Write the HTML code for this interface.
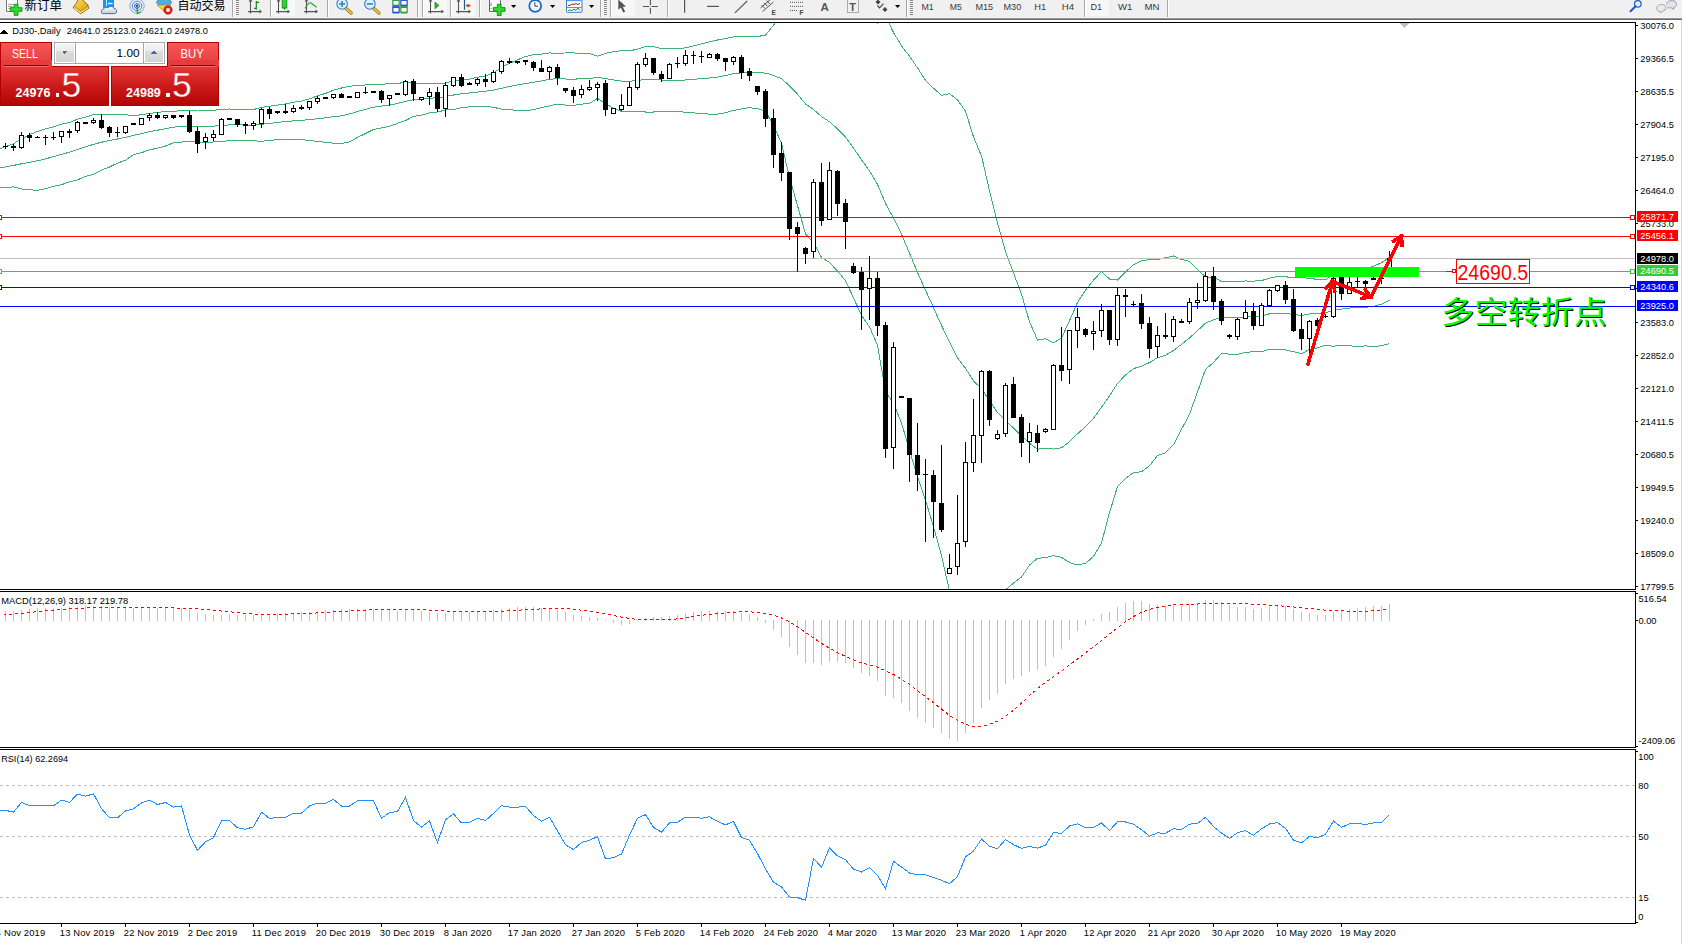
<!DOCTYPE html>
<html><head><meta charset="utf-8"><style>
html,body{margin:0;padding:0}
body{width:1682px;height:944px;overflow:hidden;position:relative;background:#fff;font-family:"Liberation Sans","Noto Sans CJK SC",sans-serif}
#tb{position:absolute;left:0;top:0;width:1682px;height:18px;background:#F0F0F0}
</style></head><body>
<svg width="1682" height="944" viewBox="0 0 1682 944" style="position:absolute;left:0;top:0" shape-rendering="crispEdges">
<defs><clipPath id="cm"><rect x="0" y="23" width="1635" height="566"/></clipPath></defs>
<g clip-path="url(#cm)">
<polyline points="-2.5,149.8 5.5,146.4 13.5,143.8 21.5,138.7 29.5,134.8 37.5,131.4 45.5,128.8 53.5,127.0 61.5,124.2 69.5,122.5 77.5,119.2 85.5,117.2 93.5,114.6 101.5,114.3 109.5,114.3 117.5,114.9 125.5,114.6 133.5,116.0 141.5,114.6 149.5,113.5 157.5,112.4 165.5,111.4 173.5,111.6 181.5,110.4 189.5,110.8 197.5,110.0 205.5,110.0 213.5,110.2 221.5,109.6 229.5,109.0 237.5,109.2 245.5,109.3 253.5,109.6 261.5,107.3 269.5,106.2 277.5,105.1 285.5,104.0 293.5,102.3 301.5,101.1 309.5,98.8 317.5,95.9 325.5,93.4 333.5,90.2 341.5,88.0 349.5,86.2 357.5,85.6 365.5,85.0 373.5,84.8 381.5,84.4 389.5,83.6 397.5,83.6 405.5,82.0 413.5,83.1 421.5,83.1 429.5,83.3 437.5,83.8 445.5,83.1 453.5,80.3 461.5,80.0 469.5,79.1 477.5,77.2 485.5,76.0 493.5,72.9 501.5,67.4 509.5,63.3 517.5,59.8 525.5,56.5 533.5,54.7 541.5,54.1 549.5,53.0 557.5,53.1 565.5,53.0 573.5,52.9 581.5,53.4 589.5,53.6 597.5,56.3 605.5,53.4 613.5,51.8 621.5,50.7 629.5,50.8 637.5,49.2 645.5,46.6 653.5,46.6 661.5,48.5 669.5,48.8 677.5,49.0 685.5,47.8 693.5,45.9 701.5,43.8 709.5,41.9 717.5,40.0 725.5,38.5 733.5,37.0 741.5,36.8 749.5,36.8 757.5,36.6 765.5,35.0 773.5,25.3 781.5,14.2 789.5,-6.1 797.5,-17.3 805.5,-25.9 813.5,-23.9 821.5,-24.4 829.5,-18.8 837.5,-13.4 845.5,-6.4 853.5,-1.9 861.5,3.9 869.5,14.8 877.5,23.2 885.5,15.5 893.5,32.6 901.5,45.7 909.5,56.3 917.5,67.8 925.5,80.4 933.5,88.3 941.5,95.2 949.5,93.8 957.5,99.9 965.5,111.2 973.5,137.1 981.5,155.9 989.5,190.8 997.5,222.7 1005.5,251.5 1013.5,273.0 1021.5,294.2 1029.5,321.6 1037.5,340.1 1045.5,338.8 1053.5,342.7 1061.5,338.2 1069.5,320.7 1077.5,302.5 1085.5,290.1 1093.5,280.1 1101.5,271.5 1109.5,279.1 1117.5,280.1 1125.5,271.9 1133.5,264.8 1141.5,260.6 1149.5,259.7 1157.5,259.7 1165.5,257.7 1173.5,256.0 1181.5,259.4 1189.5,261.4 1197.5,269.7 1205.5,276.9 1213.5,277.2 1221.5,281.5 1229.5,281.2 1237.5,281.3 1245.5,281.0 1253.5,281.1 1261.5,280.6 1269.5,278.2 1277.5,276.4 1285.5,276.8 1293.5,277.6 1301.5,277.1 1309.5,278.7 1317.5,279.2 1325.5,279.8 1333.5,274.7 1341.5,273.0 1349.5,270.3 1357.5,267.7 1365.5,269.0 1373.5,266.1 1381.5,262.8 1389.5,257.1" fill="none" stroke="#3CB371" stroke-width="1" />
<polyline points="-2.5,168.3 5.5,166.9 13.5,165.4 21.5,163.8 29.5,162.3 37.5,160.8 45.5,158.8 53.5,156.7 61.5,154.4 69.5,152.2 77.5,149.5 85.5,146.9 93.5,144.4 101.5,142.2 109.5,140.6 117.5,139.0 125.5,137.4 133.5,135.3 141.5,133.6 149.5,131.7 157.5,130.2 165.5,128.7 173.5,127.2 181.5,126.2 189.5,126.0 197.5,126.2 205.5,126.2 213.5,126.1 221.5,125.5 229.5,124.9 237.5,124.9 245.5,125.0 253.5,125.2 261.5,124.3 269.5,123.4 277.5,122.4 285.5,121.6 293.5,120.9 301.5,120.3 309.5,119.7 317.5,118.7 325.5,117.8 333.5,116.7 341.5,115.8 349.5,114.0 357.5,111.5 365.5,109.3 373.5,107.2 381.5,106.1 389.5,104.9 397.5,103.5 405.5,101.2 413.5,99.8 421.5,99.1 429.5,98.1 437.5,97.9 445.5,96.6 453.5,95.0 461.5,93.8 469.5,93.0 477.5,92.1 485.5,91.2 493.5,90.1 501.5,88.3 509.5,86.5 517.5,85.0 525.5,83.5 533.5,82.3 541.5,80.9 549.5,79.4 557.5,78.6 565.5,79.0 573.5,79.2 581.5,78.7 589.5,78.5 597.5,77.3 605.5,78.5 613.5,80.0 621.5,81.1 629.5,81.2 637.5,80.5 645.5,79.3 653.5,79.3 661.5,80.1 669.5,80.3 677.5,80.3 685.5,80.0 693.5,79.4 701.5,78.6 709.5,78.0 717.5,77.1 725.5,75.6 733.5,73.7 741.5,72.8 749.5,72.3 757.5,72.6 765.5,73.1 773.5,75.4 781.5,78.7 789.5,85.8 797.5,94.2 805.5,103.9 813.5,109.5 821.5,116.5 829.5,121.8 837.5,128.8 845.5,137.2 853.5,148.0 861.5,159.7 869.5,170.9 877.5,184.2 885.5,203.6 893.5,218.0 901.5,234.3 909.5,253.3 917.5,272.4 925.5,290.2 933.5,307.6 941.5,325.4 949.5,342.4 957.5,357.9 965.5,368.3 973.5,381.0 981.5,388.6 989.5,401.0 997.5,412.5 1005.5,420.8 1013.5,428.0 1021.5,435.7 1029.5,443.3 1037.5,449.2 1045.5,448.2 1053.5,449.1 1061.5,447.8 1069.5,441.6 1077.5,433.8 1085.5,426.7 1093.5,418.2 1101.5,407.3 1109.5,395.8 1117.5,383.4 1125.5,375.1 1133.5,368.6 1141.5,366.2 1149.5,362.6 1157.5,357.7 1165.5,355.2 1173.5,350.4 1181.5,344.4 1189.5,337.9 1197.5,330.7 1205.5,323.1 1213.5,319.9 1221.5,317.4 1229.5,317.7 1237.5,317.8 1245.5,316.7 1253.5,316.4 1261.5,316.1 1269.5,313.7 1277.5,313.2 1285.5,313.3 1293.5,314.6 1301.5,315.4 1309.5,314.0 1317.5,313.6 1325.5,312.6 1333.5,310.5 1341.5,309.1 1349.5,308.1 1357.5,307.1 1365.5,307.4 1373.5,306.3 1381.5,304.2 1389.5,300.4" fill="none" stroke="#3CB371" stroke-width="1" />
<polyline points="-2.5,186.8 5.5,187.4 13.5,186.9 21.5,189.0 29.5,189.8 37.5,190.3 45.5,188.8 53.5,186.3 61.5,184.7 69.5,181.9 77.5,179.9 85.5,176.5 93.5,174.2 101.5,170.1 109.5,167.0 117.5,163.1 125.5,160.2 133.5,154.6 141.5,152.7 149.5,149.9 157.5,148.1 165.5,146.0 173.5,142.8 181.5,142.1 189.5,141.1 197.5,142.5 205.5,142.5 213.5,142.0 221.5,141.4 229.5,140.7 237.5,140.7 245.5,140.8 253.5,140.8 261.5,141.3 269.5,140.5 277.5,139.6 285.5,139.3 293.5,139.4 301.5,139.6 309.5,140.5 317.5,141.5 325.5,142.3 333.5,143.2 341.5,143.5 349.5,141.9 357.5,137.4 365.5,133.5 373.5,129.5 381.5,127.9 389.5,126.3 397.5,123.3 405.5,120.5 413.5,116.4 421.5,115.2 429.5,112.9 437.5,112.0 445.5,110.0 453.5,109.7 461.5,107.7 469.5,106.9 477.5,106.9 485.5,106.4 493.5,107.3 501.5,109.2 509.5,109.8 517.5,110.3 525.5,110.5 533.5,109.8 541.5,107.6 549.5,105.9 557.5,104.1 565.5,105.1 573.5,105.4 581.5,104.1 589.5,103.4 597.5,98.3 605.5,103.6 613.5,108.3 621.5,111.4 629.5,111.6 637.5,111.7 645.5,112.0 653.5,112.0 661.5,111.8 669.5,111.7 677.5,111.6 685.5,112.2 693.5,112.9 701.5,113.5 709.5,114.1 717.5,114.1 725.5,112.7 733.5,110.4 741.5,108.9 749.5,107.7 757.5,108.6 765.5,111.1 773.5,125.4 781.5,143.2 789.5,177.6 797.5,205.7 805.5,233.8 813.5,242.8 821.5,257.5 829.5,262.5 837.5,271.1 845.5,280.7 853.5,297.9 861.5,315.4 869.5,326.9 877.5,345.2 885.5,391.6 893.5,403.5 901.5,422.9 909.5,450.2 917.5,477.0 925.5,500.0 933.5,526.8 941.5,555.6 949.5,591.0 957.5,615.9 965.5,625.5 973.5,624.9 981.5,621.2 989.5,611.2 997.5,602.4 1005.5,590.0 1013.5,583.0 1021.5,577.1 1029.5,565.1 1037.5,558.3 1045.5,557.7 1053.5,555.6 1061.5,557.4 1069.5,562.5 1077.5,565.0 1085.5,563.4 1093.5,556.4 1101.5,543.1 1109.5,512.6 1117.5,486.8 1125.5,478.4 1133.5,472.4 1141.5,471.8 1149.5,465.6 1157.5,455.7 1165.5,452.8 1173.5,444.7 1181.5,429.3 1189.5,414.3 1197.5,391.8 1205.5,369.3 1213.5,362.6 1221.5,353.3 1229.5,354.2 1237.5,354.3 1245.5,352.4 1253.5,351.7 1261.5,351.7 1269.5,349.2 1277.5,350.0 1285.5,349.9 1293.5,351.7 1301.5,353.7 1309.5,349.4 1317.5,347.9 1325.5,345.3 1333.5,346.3 1341.5,345.1 1349.5,345.8 1357.5,346.5 1365.5,345.9 1373.5,346.6 1381.5,345.7 1389.5,343.6" fill="none" stroke="#3CB371" stroke-width="1" />
</g>
<rect x="0" y="217" width="1635" height="1" fill="#FF0000"/>
<rect x="1630.5" y="215.5" width="4" height="4" fill="#fff" stroke="#FF0000" stroke-width="1"/>
<rect x="-2.5" y="215.5" width="4" height="4" fill="#fff" stroke="#FF0000" stroke-width="1"/>
<rect x="0" y="236" width="1635" height="1" fill="#FF0000"/>
<rect x="1630.5" y="234.5" width="4" height="4" fill="#fff" stroke="#FF0000" stroke-width="1"/>
<rect x="-2.5" y="234.5" width="4" height="4" fill="#fff" stroke="#FF0000" stroke-width="1"/>
<rect x="0" y="258" width="1635" height="1" fill="#C0C0C0"/>
<rect x="0" y="271" width="1635" height="1" fill="#32CD32"/>
<rect x="1630.5" y="269.5" width="4" height="4" fill="#fff" stroke="#32CD32" stroke-width="1"/>
<rect x="-2.5" y="269.5" width="4" height="4" fill="#fff" stroke="#32CD32" stroke-width="1"/>
<rect x="0" y="287" width="1635" height="1" fill="#0000FF"/>
<rect x="1630.5" y="285.5" width="4" height="4" fill="#fff" stroke="#0000FF" stroke-width="1"/>
<rect x="-2.5" y="285.5" width="4" height="4" fill="#fff" stroke="#0000FF" stroke-width="1"/>
<rect x="0" y="306" width="1635" height="1" fill="#0000FF"/>
<rect x="5" y="143" width="1" height="6"/>
<rect x="3" y="146" width="5" height="1"/>
<rect x="13" y="144" width="1" height="7"/>
<rect x="11" y="146" width="5" height="2"/>
<rect x="21" y="132" width="1" height="17"/>
<rect x="19" y="135" width="5" height="13"/>
<rect x="20" y="136" width="3" height="11" fill="#fff"/>
<rect x="29" y="133" width="1" height="9"/>
<rect x="27" y="135" width="5" height="3"/>
<rect x="37" y="136" width="1" height="2"/>
<rect x="35" y="137" width="5" height="1"/>
<rect x="45" y="135" width="1" height="10"/>
<rect x="43" y="137" width="5" height="1"/>
<rect x="53" y="132" width="1" height="8"/>
<rect x="51" y="137" width="5" height="1"/>
<rect x="61" y="131" width="1" height="12"/>
<rect x="59" y="131" width="5" height="6"/>
<rect x="60" y="132" width="3" height="4" fill="#fff"/>
<rect x="69" y="129" width="1" height="9"/>
<rect x="67" y="131" width="5" height="2"/>
<rect x="77" y="121" width="1" height="12"/>
<rect x="75" y="122" width="5" height="9"/>
<rect x="76" y="123" width="3" height="7" fill="#fff"/>
<rect x="85" y="122" width="1" height="2"/>
<rect x="83" y="122" width="5" height="2"/>
<rect x="93" y="118" width="1" height="6"/>
<rect x="91" y="120" width="5" height="3"/>
<rect x="92" y="121" width="3" height="1" fill="#fff"/>
<rect x="101" y="114" width="1" height="15"/>
<rect x="99" y="120" width="5" height="8"/>
<rect x="109" y="126" width="1" height="11"/>
<rect x="107" y="127" width="5" height="6"/>
<rect x="117" y="127" width="1" height="10"/>
<rect x="115" y="132" width="5" height="1"/>
<rect x="125" y="126" width="1" height="8"/>
<rect x="123" y="126" width="5" height="7"/>
<rect x="124" y="127" width="3" height="5" fill="#fff"/>
<rect x="133" y="123" width="1" height="2"/>
<rect x="131" y="123" width="5" height="2"/>
<rect x="141" y="118" width="1" height="7"/>
<rect x="139" y="118" width="5" height="7"/>
<rect x="140" y="119" width="3" height="5" fill="#fff"/>
<rect x="149" y="113" width="1" height="8"/>
<rect x="147" y="115" width="5" height="3"/>
<rect x="148" y="116" width="3" height="1" fill="#fff"/>
<rect x="157" y="112" width="1" height="7"/>
<rect x="155" y="115" width="5" height="3"/>
<rect x="165" y="115" width="1" height="4"/>
<rect x="163" y="115" width="5" height="3"/>
<rect x="164" y="116" width="3" height="1" fill="#fff"/>
<rect x="173" y="115" width="1" height="4"/>
<rect x="171" y="115" width="5" height="3"/>
<rect x="181" y="115" width="1" height="3"/>
<rect x="179" y="115" width="5" height="2"/>
<rect x="189" y="111" width="1" height="22"/>
<rect x="187" y="115" width="5" height="17"/>
<rect x="197" y="127" width="1" height="26"/>
<rect x="195" y="131" width="5" height="13"/>
<rect x="205" y="133" width="1" height="16"/>
<rect x="203" y="137" width="5" height="5"/>
<rect x="204" y="138" width="3" height="3" fill="#fff"/>
<rect x="213" y="130" width="1" height="11"/>
<rect x="211" y="134" width="5" height="4"/>
<rect x="212" y="135" width="3" height="2" fill="#fff"/>
<rect x="221" y="118" width="1" height="17"/>
<rect x="219" y="119" width="5" height="16"/>
<rect x="220" y="120" width="3" height="14" fill="#fff"/>
<rect x="229" y="118" width="1" height="2"/>
<rect x="227" y="118" width="5" height="2"/>
<rect x="237" y="119" width="1" height="8"/>
<rect x="235" y="119" width="5" height="6"/>
<rect x="245" y="122" width="1" height="12"/>
<rect x="243" y="124" width="5" height="2"/>
<rect x="253" y="121" width="1" height="9"/>
<rect x="251" y="123" width="5" height="3"/>
<rect x="252" y="124" width="3" height="1" fill="#fff"/>
<rect x="261" y="108" width="1" height="20"/>
<rect x="259" y="109" width="5" height="15"/>
<rect x="260" y="110" width="3" height="13" fill="#fff"/>
<rect x="269" y="107" width="1" height="12"/>
<rect x="267" y="109" width="5" height="5"/>
<rect x="277" y="111" width="1" height="3"/>
<rect x="275" y="111" width="5" height="2"/>
<rect x="285" y="104" width="1" height="10"/>
<rect x="283" y="111" width="5" height="2"/>
<rect x="293" y="105" width="1" height="8"/>
<rect x="291" y="108" width="5" height="4"/>
<rect x="292" y="109" width="3" height="2" fill="#fff"/>
<rect x="301" y="105" width="1" height="5"/>
<rect x="299" y="107" width="5" height="2"/>
<rect x="309" y="101" width="1" height="9"/>
<rect x="307" y="101" width="5" height="7"/>
<rect x="308" y="102" width="3" height="5" fill="#fff"/>
<rect x="317" y="96" width="1" height="8"/>
<rect x="315" y="98" width="5" height="4"/>
<rect x="316" y="99" width="3" height="2" fill="#fff"/>
<rect x="325" y="97" width="1" height="2"/>
<rect x="323" y="97" width="5" height="2"/>
<rect x="333" y="94" width="1" height="5"/>
<rect x="331" y="94" width="5" height="4"/>
<rect x="332" y="95" width="3" height="2" fill="#fff"/>
<rect x="341" y="93" width="1" height="5"/>
<rect x="339" y="94" width="5" height="4"/>
<rect x="349" y="96" width="1" height="2"/>
<rect x="347" y="96" width="5" height="2"/>
<rect x="357" y="92" width="1" height="6"/>
<rect x="355" y="92" width="5" height="6"/>
<rect x="356" y="93" width="3" height="4" fill="#fff"/>
<rect x="365" y="87" width="1" height="7"/>
<rect x="363" y="92" width="5" height="1"/>
<rect x="373" y="91" width="1" height="2"/>
<rect x="371" y="91" width="5" height="2"/>
<rect x="381" y="90" width="1" height="13"/>
<rect x="379" y="91" width="5" height="9"/>
<rect x="389" y="95" width="1" height="11"/>
<rect x="387" y="95" width="5" height="4"/>
<rect x="388" y="96" width="3" height="2" fill="#fff"/>
<rect x="397" y="93" width="1" height="2"/>
<rect x="395" y="93" width="5" height="2"/>
<rect x="405" y="80" width="1" height="16"/>
<rect x="403" y="81" width="5" height="14"/>
<rect x="404" y="82" width="3" height="12" fill="#fff"/>
<rect x="413" y="79" width="1" height="22"/>
<rect x="411" y="81" width="5" height="13"/>
<rect x="421" y="97" width="1" height="4"/>
<rect x="419" y="97" width="5" height="3"/>
<rect x="420" y="98" width="3" height="1" fill="#fff"/>
<rect x="429" y="88" width="1" height="17"/>
<rect x="427" y="92" width="5" height="5"/>
<rect x="428" y="93" width="3" height="3" fill="#fff"/>
<rect x="437" y="87" width="1" height="25"/>
<rect x="435" y="92" width="5" height="17"/>
<rect x="445" y="82" width="1" height="35"/>
<rect x="443" y="85" width="5" height="24"/>
<rect x="444" y="86" width="3" height="22" fill="#fff"/>
<rect x="453" y="77" width="1" height="10"/>
<rect x="451" y="77" width="5" height="9"/>
<rect x="452" y="78" width="3" height="7" fill="#fff"/>
<rect x="461" y="74" width="1" height="13"/>
<rect x="459" y="77" width="5" height="9"/>
<rect x="469" y="82" width="1" height="3"/>
<rect x="467" y="83" width="5" height="2"/>
<rect x="477" y="78" width="1" height="8"/>
<rect x="475" y="79" width="5" height="5"/>
<rect x="476" y="80" width="3" height="3" fill="#fff"/>
<rect x="485" y="74" width="1" height="13"/>
<rect x="483" y="79" width="5" height="3"/>
<rect x="493" y="70" width="1" height="13"/>
<rect x="491" y="72" width="5" height="10"/>
<rect x="492" y="73" width="3" height="8" fill="#fff"/>
<rect x="501" y="60" width="1" height="14"/>
<rect x="499" y="61" width="5" height="11"/>
<rect x="500" y="62" width="3" height="9" fill="#fff"/>
<rect x="509" y="58" width="1" height="6"/>
<rect x="507" y="61" width="5" height="2"/>
<rect x="517" y="61" width="1" height="3"/>
<rect x="515" y="61" width="5" height="2"/>
<rect x="525" y="60" width="1" height="5"/>
<rect x="523" y="60" width="5" height="2"/>
<rect x="533" y="61" width="1" height="10"/>
<rect x="531" y="62" width="5" height="6"/>
<rect x="541" y="60" width="1" height="12"/>
<rect x="539" y="68" width="5" height="4"/>
<rect x="549" y="66" width="1" height="13"/>
<rect x="547" y="67" width="5" height="5"/>
<rect x="548" y="68" width="3" height="3" fill="#fff"/>
<rect x="557" y="64" width="1" height="21"/>
<rect x="555" y="67" width="5" height="11"/>
<rect x="565" y="88" width="1" height="5"/>
<rect x="563" y="88" width="5" height="3"/>
<rect x="573" y="87" width="1" height="16"/>
<rect x="571" y="90" width="5" height="6"/>
<rect x="581" y="85" width="1" height="13"/>
<rect x="579" y="89" width="5" height="6"/>
<rect x="580" y="90" width="3" height="4" fill="#fff"/>
<rect x="589" y="80" width="1" height="11"/>
<rect x="587" y="87" width="5" height="3"/>
<rect x="588" y="88" width="3" height="1" fill="#fff"/>
<rect x="597" y="82" width="1" height="19"/>
<rect x="595" y="84" width="5" height="4"/>
<rect x="596" y="85" width="3" height="2" fill="#fff"/>
<rect x="605" y="80" width="1" height="36"/>
<rect x="603" y="83" width="5" height="27"/>
<rect x="613" y="108" width="1" height="6"/>
<rect x="611" y="108" width="5" height="6"/>
<rect x="612" y="109" width="3" height="4" fill="#fff"/>
<rect x="621" y="94" width="1" height="17"/>
<rect x="619" y="105" width="5" height="5"/>
<rect x="620" y="106" width="3" height="3" fill="#fff"/>
<rect x="629" y="82" width="1" height="24"/>
<rect x="627" y="87" width="5" height="19"/>
<rect x="628" y="88" width="3" height="17" fill="#fff"/>
<rect x="637" y="62" width="1" height="28"/>
<rect x="635" y="64" width="5" height="24"/>
<rect x="636" y="65" width="3" height="22" fill="#fff"/>
<rect x="645" y="53" width="1" height="14"/>
<rect x="643" y="58" width="5" height="7"/>
<rect x="644" y="59" width="3" height="5" fill="#fff"/>
<rect x="653" y="58" width="1" height="17"/>
<rect x="651" y="58" width="5" height="15"/>
<rect x="661" y="71" width="1" height="11"/>
<rect x="659" y="74" width="5" height="5"/>
<rect x="669" y="63" width="1" height="16"/>
<rect x="667" y="64" width="5" height="15"/>
<rect x="668" y="65" width="3" height="13" fill="#fff"/>
<rect x="677" y="57" width="1" height="11"/>
<rect x="675" y="63" width="5" height="1"/>
<rect x="685" y="50" width="1" height="16"/>
<rect x="683" y="55" width="5" height="9"/>
<rect x="684" y="56" width="3" height="7" fill="#fff"/>
<rect x="693" y="51" width="1" height="13"/>
<rect x="691" y="55" width="5" height="1"/>
<rect x="701" y="51" width="1" height="12"/>
<rect x="699" y="56" width="5" height="1"/>
<rect x="709" y="53" width="1" height="5"/>
<rect x="707" y="54" width="5" height="4"/>
<rect x="708" y="55" width="3" height="2" fill="#fff"/>
<rect x="717" y="53" width="1" height="8"/>
<rect x="715" y="54" width="5" height="5"/>
<rect x="725" y="58" width="1" height="13"/>
<rect x="723" y="58" width="5" height="4"/>
<rect x="733" y="56" width="1" height="9"/>
<rect x="731" y="57" width="5" height="5"/>
<rect x="732" y="58" width="3" height="3" fill="#fff"/>
<rect x="741" y="55" width="1" height="24"/>
<rect x="739" y="57" width="5" height="16"/>
<rect x="749" y="68" width="1" height="13"/>
<rect x="747" y="71" width="5" height="5"/>
<rect x="757" y="86" width="1" height="9"/>
<rect x="755" y="86" width="5" height="6"/>
<rect x="765" y="89" width="1" height="38"/>
<rect x="763" y="91" width="5" height="28"/>
<rect x="773" y="109" width="1" height="59"/>
<rect x="771" y="118" width="5" height="37"/>
<rect x="781" y="142" width="1" height="39"/>
<rect x="779" y="153" width="5" height="20"/>
<rect x="789" y="172" width="1" height="68"/>
<rect x="787" y="172" width="5" height="57"/>
<rect x="797" y="222" width="1" height="50"/>
<rect x="795" y="227" width="5" height="7"/>
<rect x="805" y="247" width="1" height="17"/>
<rect x="803" y="248" width="5" height="6"/>
<rect x="813" y="179" width="1" height="79"/>
<rect x="811" y="182" width="5" height="70"/>
<rect x="812" y="183" width="3" height="68" fill="#fff"/>
<rect x="821" y="163" width="1" height="63"/>
<rect x="819" y="182" width="5" height="39"/>
<rect x="829" y="162" width="1" height="58"/>
<rect x="827" y="170" width="5" height="50"/>
<rect x="828" y="171" width="3" height="48" fill="#fff"/>
<rect x="837" y="170" width="1" height="46"/>
<rect x="835" y="171" width="5" height="33"/>
<rect x="845" y="199" width="1" height="50"/>
<rect x="843" y="203" width="5" height="19"/>
<rect x="853" y="263" width="1" height="11"/>
<rect x="851" y="266" width="5" height="7"/>
<rect x="861" y="267" width="1" height="63"/>
<rect x="859" y="272" width="5" height="18"/>
<rect x="869" y="256" width="1" height="64"/>
<rect x="867" y="278" width="5" height="11"/>
<rect x="868" y="279" width="3" height="9" fill="#fff"/>
<rect x="877" y="272" width="1" height="64"/>
<rect x="875" y="278" width="5" height="48"/>
<rect x="885" y="322" width="1" height="136"/>
<rect x="883" y="325" width="5" height="124"/>
<rect x="893" y="342" width="1" height="127"/>
<rect x="891" y="347" width="5" height="101"/>
<rect x="892" y="348" width="3" height="99" fill="#fff"/>
<rect x="901" y="396" width="1" height="2"/>
<rect x="899" y="396" width="5" height="2"/>
<rect x="909" y="398" width="1" height="84"/>
<rect x="907" y="398" width="5" height="57"/>
<rect x="917" y="423" width="1" height="68"/>
<rect x="915" y="455" width="5" height="20"/>
<rect x="925" y="459" width="1" height="83"/>
<rect x="923" y="474" width="5" height="1"/>
<rect x="933" y="470" width="1" height="68"/>
<rect x="931" y="475" width="5" height="27"/>
<rect x="941" y="445" width="1" height="87"/>
<rect x="939" y="503" width="5" height="27"/>
<rect x="949" y="554" width="1" height="20"/>
<rect x="947" y="568" width="5" height="6"/>
<rect x="948" y="569" width="3" height="4" fill="#fff"/>
<rect x="957" y="495" width="1" height="80"/>
<rect x="955" y="543" width="5" height="24"/>
<rect x="956" y="544" width="3" height="22" fill="#fff"/>
<rect x="965" y="442" width="1" height="105"/>
<rect x="963" y="462" width="5" height="80"/>
<rect x="964" y="463" width="3" height="78" fill="#fff"/>
<rect x="973" y="399" width="1" height="73"/>
<rect x="971" y="435" width="5" height="28"/>
<rect x="972" y="436" width="3" height="26" fill="#fff"/>
<rect x="981" y="370" width="1" height="93"/>
<rect x="979" y="371" width="5" height="65"/>
<rect x="980" y="372" width="3" height="63" fill="#fff"/>
<rect x="989" y="370" width="1" height="56"/>
<rect x="987" y="371" width="5" height="49"/>
<rect x="997" y="430" width="1" height="10"/>
<rect x="995" y="434" width="5" height="5"/>
<rect x="996" y="435" width="3" height="3" fill="#fff"/>
<rect x="1005" y="383" width="1" height="54"/>
<rect x="1003" y="385" width="5" height="49"/>
<rect x="1004" y="386" width="3" height="47" fill="#fff"/>
<rect x="1013" y="377" width="1" height="41"/>
<rect x="1011" y="384" width="5" height="34"/>
<rect x="1021" y="414" width="1" height="43"/>
<rect x="1019" y="417" width="5" height="26"/>
<rect x="1029" y="423" width="1" height="40"/>
<rect x="1027" y="432" width="5" height="10"/>
<rect x="1028" y="433" width="3" height="8" fill="#fff"/>
<rect x="1037" y="425" width="1" height="27"/>
<rect x="1035" y="433" width="5" height="10"/>
<rect x="1045" y="428" width="1" height="5"/>
<rect x="1043" y="429" width="5" height="3"/>
<rect x="1044" y="430" width="3" height="1" fill="#fff"/>
<rect x="1053" y="364" width="1" height="66"/>
<rect x="1051" y="365" width="5" height="65"/>
<rect x="1052" y="366" width="3" height="63" fill="#fff"/>
<rect x="1061" y="327" width="1" height="54"/>
<rect x="1059" y="365" width="5" height="6"/>
<rect x="1069" y="330" width="1" height="54"/>
<rect x="1067" y="330" width="5" height="40"/>
<rect x="1068" y="331" width="3" height="38" fill="#fff"/>
<rect x="1077" y="308" width="1" height="40"/>
<rect x="1075" y="317" width="5" height="14"/>
<rect x="1076" y="318" width="3" height="12" fill="#fff"/>
<rect x="1085" y="328" width="1" height="9"/>
<rect x="1083" y="329" width="5" height="6"/>
<rect x="1093" y="321" width="1" height="29"/>
<rect x="1091" y="331" width="5" height="3"/>
<rect x="1092" y="332" width="3" height="1" fill="#fff"/>
<rect x="1101" y="304" width="1" height="33"/>
<rect x="1099" y="310" width="5" height="21"/>
<rect x="1100" y="311" width="3" height="19" fill="#fff"/>
<rect x="1109" y="310" width="1" height="35"/>
<rect x="1107" y="310" width="5" height="30"/>
<rect x="1117" y="288" width="1" height="58"/>
<rect x="1115" y="295" width="5" height="45"/>
<rect x="1116" y="296" width="3" height="43" fill="#fff"/>
<rect x="1125" y="289" width="1" height="28"/>
<rect x="1123" y="295" width="5" height="2"/>
<rect x="1133" y="301" width="1" height="5"/>
<rect x="1131" y="304" width="5" height="1"/>
<rect x="1141" y="294" width="1" height="35"/>
<rect x="1139" y="303" width="5" height="21"/>
<rect x="1149" y="317" width="1" height="41"/>
<rect x="1147" y="323" width="5" height="26"/>
<rect x="1157" y="326" width="1" height="32"/>
<rect x="1155" y="335" width="5" height="12"/>
<rect x="1156" y="336" width="3" height="10" fill="#fff"/>
<rect x="1165" y="313" width="1" height="26"/>
<rect x="1163" y="335" width="5" height="2"/>
<rect x="1173" y="316" width="1" height="26"/>
<rect x="1171" y="319" width="5" height="18"/>
<rect x="1172" y="320" width="3" height="16" fill="#fff"/>
<rect x="1181" y="319" width="1" height="4"/>
<rect x="1179" y="321" width="5" height="2"/>
<rect x="1189" y="298" width="1" height="26"/>
<rect x="1187" y="302" width="5" height="20"/>
<rect x="1188" y="303" width="3" height="18" fill="#fff"/>
<rect x="1197" y="283" width="1" height="26"/>
<rect x="1195" y="300" width="5" height="3"/>
<rect x="1196" y="301" width="3" height="1" fill="#fff"/>
<rect x="1205" y="272" width="1" height="30"/>
<rect x="1203" y="276" width="5" height="25"/>
<rect x="1204" y="277" width="3" height="23" fill="#fff"/>
<rect x="1213" y="267" width="1" height="43"/>
<rect x="1211" y="276" width="5" height="26"/>
<rect x="1221" y="299" width="1" height="26"/>
<rect x="1219" y="301" width="5" height="20"/>
<rect x="1229" y="334" width="1" height="5"/>
<rect x="1227" y="335" width="5" height="2"/>
<rect x="1237" y="318" width="1" height="22"/>
<rect x="1235" y="319" width="5" height="18"/>
<rect x="1236" y="320" width="3" height="16" fill="#fff"/>
<rect x="1245" y="300" width="1" height="19"/>
<rect x="1243" y="312" width="5" height="7"/>
<rect x="1244" y="313" width="3" height="5" fill="#fff"/>
<rect x="1253" y="303" width="1" height="27"/>
<rect x="1251" y="311" width="5" height="15"/>
<rect x="1261" y="303" width="1" height="23"/>
<rect x="1259" y="305" width="5" height="21"/>
<rect x="1260" y="306" width="3" height="19" fill="#fff"/>
<rect x="1269" y="289" width="1" height="17"/>
<rect x="1267" y="290" width="5" height="16"/>
<rect x="1268" y="291" width="3" height="14" fill="#fff"/>
<rect x="1277" y="285" width="1" height="7"/>
<rect x="1275" y="285" width="5" height="6"/>
<rect x="1276" y="286" width="3" height="4" fill="#fff"/>
<rect x="1285" y="281" width="1" height="23"/>
<rect x="1283" y="285" width="5" height="15"/>
<rect x="1293" y="289" width="1" height="43"/>
<rect x="1291" y="299" width="5" height="32"/>
<rect x="1301" y="313" width="1" height="37"/>
<rect x="1299" y="329" width="5" height="10"/>
<rect x="1309" y="320" width="1" height="34"/>
<rect x="1307" y="321" width="5" height="18"/>
<rect x="1308" y="322" width="3" height="16" fill="#fff"/>
<rect x="1317" y="318" width="1" height="8"/>
<rect x="1315" y="320" width="5" height="6"/>
<rect x="1325" y="314" width="1" height="4"/>
<rect x="1323" y="316" width="5" height="1"/>
<rect x="1333" y="272" width="1" height="46"/>
<rect x="1331" y="278" width="5" height="39"/>
<rect x="1332" y="279" width="3" height="37" fill="#fff"/>
<rect x="1341" y="272" width="1" height="28"/>
<rect x="1339" y="276" width="5" height="18"/>
<rect x="1349" y="277" width="1" height="17"/>
<rect x="1347" y="282" width="5" height="12"/>
<rect x="1348" y="283" width="3" height="10" fill="#fff"/>
<rect x="1357" y="277" width="1" height="11"/>
<rect x="1355" y="281" width="5" height="1"/>
<rect x="1365" y="280" width="1" height="19"/>
<rect x="1363" y="281" width="5" height="3"/>
<rect x="1373" y="277" width="1" height="3"/>
<rect x="1371" y="278" width="5" height="2"/>
<rect x="1381" y="277" width="1" height="7"/>
<rect x="1379" y="278" width="5" height="1"/>
<rect x="1389" y="251" width="1" height="23"/>
<rect x="1387" y="258" width="5" height="15"/>
<rect x="1388" y="259" width="3" height="13" fill="#fff"/>
<rect x="1295" y="267" width="124" height="10" fill="#00FF00"/>
<path d="M1308,364 L1332.5,281.5 M1332.5,281.5 L1334.7,290.7 M1332.5,281.5 L1325.6,288.0 M1332.5,281.5 L1371,297 M1371,297 L1361.6,298.3 M1371,297 L1365.1,289.5 M1371,297 L1401.5,236 M1401.5,236 L1402.1,245.5 M1401.5,236 L1393.6,241.2 " fill="none" stroke="#FF0000" stroke-width="3.5" stroke-linecap="square" stroke-linejoin="miter"/>
<rect x="5" y="611" width="1" height="10" fill="#C0C0C0"/>
<rect x="13" y="611" width="1" height="10" fill="#C0C0C0"/>
<rect x="21" y="610" width="1" height="11" fill="#C0C0C0"/>
<rect x="29" y="609" width="1" height="12" fill="#C0C0C0"/>
<rect x="37" y="608" width="1" height="13" fill="#C0C0C0"/>
<rect x="45" y="608" width="1" height="13" fill="#C0C0C0"/>
<rect x="53" y="608" width="1" height="13" fill="#C0C0C0"/>
<rect x="61" y="608" width="1" height="13" fill="#C0C0C0"/>
<rect x="69" y="607" width="1" height="14" fill="#C0C0C0"/>
<rect x="77" y="607" width="1" height="14" fill="#C0C0C0"/>
<rect x="85" y="606" width="1" height="15" fill="#C0C0C0"/>
<rect x="93" y="606" width="1" height="15" fill="#C0C0C0"/>
<rect x="101" y="606" width="1" height="15" fill="#C0C0C0"/>
<rect x="109" y="607" width="1" height="14" fill="#C0C0C0"/>
<rect x="117" y="608" width="1" height="13" fill="#C0C0C0"/>
<rect x="125" y="608" width="1" height="13" fill="#C0C0C0"/>
<rect x="133" y="608" width="1" height="13" fill="#C0C0C0"/>
<rect x="141" y="608" width="1" height="13" fill="#C0C0C0"/>
<rect x="149" y="608" width="1" height="13" fill="#C0C0C0"/>
<rect x="157" y="608" width="1" height="13" fill="#C0C0C0"/>
<rect x="165" y="608" width="1" height="13" fill="#C0C0C0"/>
<rect x="173" y="608" width="1" height="13" fill="#C0C0C0"/>
<rect x="181" y="608" width="1" height="13" fill="#C0C0C0"/>
<rect x="189" y="610" width="1" height="11" fill="#C0C0C0"/>
<rect x="197" y="613" width="1" height="8" fill="#C0C0C0"/>
<rect x="205" y="614" width="1" height="7" fill="#C0C0C0"/>
<rect x="213" y="615" width="1" height="6" fill="#C0C0C0"/>
<rect x="221" y="615" width="1" height="6" fill="#C0C0C0"/>
<rect x="229" y="614" width="1" height="7" fill="#C0C0C0"/>
<rect x="237" y="615" width="1" height="6" fill="#C0C0C0"/>
<rect x="245" y="615" width="1" height="6" fill="#C0C0C0"/>
<rect x="253" y="615" width="1" height="6" fill="#C0C0C0"/>
<rect x="261" y="614" width="1" height="7" fill="#C0C0C0"/>
<rect x="269" y="614" width="1" height="7" fill="#C0C0C0"/>
<rect x="277" y="613" width="1" height="8" fill="#C0C0C0"/>
<rect x="285" y="613" width="1" height="8" fill="#C0C0C0"/>
<rect x="293" y="613" width="1" height="8" fill="#C0C0C0"/>
<rect x="301" y="612" width="1" height="9" fill="#C0C0C0"/>
<rect x="309" y="612" width="1" height="9" fill="#C0C0C0"/>
<rect x="317" y="611" width="1" height="10" fill="#C0C0C0"/>
<rect x="325" y="610" width="1" height="11" fill="#C0C0C0"/>
<rect x="333" y="610" width="1" height="11" fill="#C0C0C0"/>
<rect x="341" y="609" width="1" height="12" fill="#C0C0C0"/>
<rect x="349" y="609" width="1" height="12" fill="#C0C0C0"/>
<rect x="357" y="609" width="1" height="12" fill="#C0C0C0"/>
<rect x="365" y="609" width="1" height="12" fill="#C0C0C0"/>
<rect x="373" y="609" width="1" height="12" fill="#C0C0C0"/>
<rect x="381" y="610" width="1" height="11" fill="#C0C0C0"/>
<rect x="389" y="610" width="1" height="11" fill="#C0C0C0"/>
<rect x="397" y="611" width="1" height="10" fill="#C0C0C0"/>
<rect x="405" y="610" width="1" height="11" fill="#C0C0C0"/>
<rect x="413" y="610" width="1" height="11" fill="#C0C0C0"/>
<rect x="421" y="611" width="1" height="10" fill="#C0C0C0"/>
<rect x="429" y="612" width="1" height="9" fill="#C0C0C0"/>
<rect x="437" y="613" width="1" height="8" fill="#C0C0C0"/>
<rect x="445" y="613" width="1" height="8" fill="#C0C0C0"/>
<rect x="453" y="612" width="1" height="9" fill="#C0C0C0"/>
<rect x="461" y="612" width="1" height="9" fill="#C0C0C0"/>
<rect x="469" y="612" width="1" height="9" fill="#C0C0C0"/>
<rect x="477" y="611" width="1" height="10" fill="#C0C0C0"/>
<rect x="485" y="611" width="1" height="10" fill="#C0C0C0"/>
<rect x="493" y="610" width="1" height="11" fill="#C0C0C0"/>
<rect x="501" y="609" width="1" height="12" fill="#C0C0C0"/>
<rect x="509" y="608" width="1" height="13" fill="#C0C0C0"/>
<rect x="517" y="607" width="1" height="14" fill="#C0C0C0"/>
<rect x="525" y="607" width="1" height="14" fill="#C0C0C0"/>
<rect x="533" y="607" width="1" height="14" fill="#C0C0C0"/>
<rect x="541" y="608" width="1" height="13" fill="#C0C0C0"/>
<rect x="549" y="609" width="1" height="12" fill="#C0C0C0"/>
<rect x="557" y="610" width="1" height="11" fill="#C0C0C0"/>
<rect x="565" y="612" width="1" height="9" fill="#C0C0C0"/>
<rect x="573" y="615" width="1" height="6" fill="#C0C0C0"/>
<rect x="581" y="616" width="1" height="5" fill="#C0C0C0"/>
<rect x="589" y="617" width="1" height="4" fill="#C0C0C0"/>
<rect x="597" y="618" width="1" height="3" fill="#C0C0C0"/>
<rect x="605" y="620" width="1" height="1" fill="#C0C0C0"/>
<rect x="613" y="620" width="1" height="3" fill="#C0C0C0"/>
<rect x="621" y="620" width="1" height="5" fill="#C0C0C0"/>
<rect x="629" y="620" width="1" height="4" fill="#C0C0C0"/>
<rect x="637" y="620" width="1" height="1" fill="#C0C0C0"/>
<rect x="645" y="618" width="1" height="3" fill="#C0C0C0"/>
<rect x="653" y="617" width="1" height="4" fill="#C0C0C0"/>
<rect x="661" y="617" width="1" height="4" fill="#C0C0C0"/>
<rect x="669" y="616" width="1" height="5" fill="#C0C0C0"/>
<rect x="677" y="615" width="1" height="6" fill="#C0C0C0"/>
<rect x="685" y="613" width="1" height="8" fill="#C0C0C0"/>
<rect x="693" y="612" width="1" height="9" fill="#C0C0C0"/>
<rect x="701" y="611" width="1" height="10" fill="#C0C0C0"/>
<rect x="709" y="611" width="1" height="10" fill="#C0C0C0"/>
<rect x="717" y="611" width="1" height="10" fill="#C0C0C0"/>
<rect x="725" y="611" width="1" height="10" fill="#C0C0C0"/>
<rect x="733" y="611" width="1" height="10" fill="#C0C0C0"/>
<rect x="741" y="613" width="1" height="8" fill="#C0C0C0"/>
<rect x="749" y="614" width="1" height="7" fill="#C0C0C0"/>
<rect x="757" y="617" width="1" height="4" fill="#C0C0C0"/>
<rect x="765" y="620" width="1" height="3" fill="#C0C0C0"/>
<rect x="773" y="620" width="1" height="10" fill="#C0C0C0"/>
<rect x="781" y="620" width="1" height="17" fill="#C0C0C0"/>
<rect x="789" y="620" width="1" height="27" fill="#C0C0C0"/>
<rect x="797" y="620" width="1" height="35" fill="#C0C0C0"/>
<rect x="805" y="620" width="1" height="43" fill="#C0C0C0"/>
<rect x="813" y="620" width="1" height="43" fill="#C0C0C0"/>
<rect x="821" y="620" width="1" height="45" fill="#C0C0C0"/>
<rect x="829" y="620" width="1" height="42" fill="#C0C0C0"/>
<rect x="837" y="620" width="1" height="42" fill="#C0C0C0"/>
<rect x="845" y="620" width="1" height="43" fill="#C0C0C0"/>
<rect x="853" y="620" width="1" height="48" fill="#C0C0C0"/>
<rect x="861" y="620" width="1" height="53" fill="#C0C0C0"/>
<rect x="869" y="620" width="1" height="56" fill="#C0C0C0"/>
<rect x="877" y="620" width="1" height="61" fill="#C0C0C0"/>
<rect x="885" y="620" width="1" height="76" fill="#C0C0C0"/>
<rect x="893" y="620" width="1" height="78" fill="#C0C0C0"/>
<rect x="901" y="620" width="1" height="83" fill="#C0C0C0"/>
<rect x="909" y="620" width="1" height="91" fill="#C0C0C0"/>
<rect x="917" y="620" width="1" height="98" fill="#C0C0C0"/>
<rect x="925" y="620" width="1" height="103" fill="#C0C0C0"/>
<rect x="933" y="620" width="1" height="108" fill="#C0C0C0"/>
<rect x="941" y="620" width="1" height="113" fill="#C0C0C0"/>
<rect x="949" y="620" width="1" height="119" fill="#C0C0C0"/>
<rect x="957" y="620" width="1" height="121" fill="#C0C0C0"/>
<rect x="965" y="620" width="1" height="113" fill="#C0C0C0"/>
<rect x="973" y="620" width="1" height="103" fill="#C0C0C0"/>
<rect x="981" y="620" width="1" height="88" fill="#C0C0C0"/>
<rect x="989" y="620" width="1" height="80" fill="#C0C0C0"/>
<rect x="997" y="620" width="1" height="74" fill="#C0C0C0"/>
<rect x="1005" y="620" width="1" height="64" fill="#C0C0C0"/>
<rect x="1013" y="620" width="1" height="59" fill="#C0C0C0"/>
<rect x="1021" y="620" width="1" height="56" fill="#C0C0C0"/>
<rect x="1029" y="620" width="1" height="52" fill="#C0C0C0"/>
<rect x="1037" y="620" width="1" height="50" fill="#C0C0C0"/>
<rect x="1045" y="620" width="1" height="46" fill="#C0C0C0"/>
<rect x="1053" y="620" width="1" height="37" fill="#C0C0C0"/>
<rect x="1061" y="620" width="1" height="29" fill="#C0C0C0"/>
<rect x="1069" y="620" width="1" height="20" fill="#C0C0C0"/>
<rect x="1077" y="620" width="1" height="11" fill="#C0C0C0"/>
<rect x="1085" y="620" width="1" height="5" fill="#C0C0C0"/>
<rect x="1093" y="619" width="1" height="2" fill="#C0C0C0"/>
<rect x="1101" y="614" width="1" height="7" fill="#C0C0C0"/>
<rect x="1109" y="612" width="1" height="9" fill="#C0C0C0"/>
<rect x="1117" y="607" width="1" height="14" fill="#C0C0C0"/>
<rect x="1125" y="603" width="1" height="18" fill="#C0C0C0"/>
<rect x="1133" y="601" width="1" height="20" fill="#C0C0C0"/>
<rect x="1141" y="601" width="1" height="20" fill="#C0C0C0"/>
<rect x="1149" y="604" width="1" height="17" fill="#C0C0C0"/>
<rect x="1157" y="605" width="1" height="16" fill="#C0C0C0"/>
<rect x="1165" y="606" width="1" height="15" fill="#C0C0C0"/>
<rect x="1173" y="606" width="1" height="15" fill="#C0C0C0"/>
<rect x="1181" y="606" width="1" height="15" fill="#C0C0C0"/>
<rect x="1189" y="604" width="1" height="17" fill="#C0C0C0"/>
<rect x="1197" y="603" width="1" height="18" fill="#C0C0C0"/>
<rect x="1205" y="600" width="1" height="21" fill="#C0C0C0"/>
<rect x="1213" y="600" width="1" height="21" fill="#C0C0C0"/>
<rect x="1221" y="602" width="1" height="19" fill="#C0C0C0"/>
<rect x="1229" y="605" width="1" height="16" fill="#C0C0C0"/>
<rect x="1237" y="607" width="1" height="14" fill="#C0C0C0"/>
<rect x="1245" y="607" width="1" height="14" fill="#C0C0C0"/>
<rect x="1253" y="609" width="1" height="12" fill="#C0C0C0"/>
<rect x="1261" y="608" width="1" height="13" fill="#C0C0C0"/>
<rect x="1269" y="607" width="1" height="14" fill="#C0C0C0"/>
<rect x="1277" y="605" width="1" height="16" fill="#C0C0C0"/>
<rect x="1285" y="606" width="1" height="15" fill="#C0C0C0"/>
<rect x="1293" y="609" width="1" height="12" fill="#C0C0C0"/>
<rect x="1301" y="612" width="1" height="9" fill="#C0C0C0"/>
<rect x="1309" y="613" width="1" height="8" fill="#C0C0C0"/>
<rect x="1317" y="615" width="1" height="6" fill="#C0C0C0"/>
<rect x="1325" y="615" width="1" height="6" fill="#C0C0C0"/>
<rect x="1333" y="612" width="1" height="9" fill="#C0C0C0"/>
<rect x="1341" y="611" width="1" height="10" fill="#C0C0C0"/>
<rect x="1349" y="609" width="1" height="12" fill="#C0C0C0"/>
<rect x="1357" y="608" width="1" height="13" fill="#C0C0C0"/>
<rect x="1365" y="607" width="1" height="14" fill="#C0C0C0"/>
<rect x="1373" y="606" width="1" height="15" fill="#C0C0C0"/>
<rect x="1381" y="606" width="1" height="15" fill="#C0C0C0"/>
<rect x="1389" y="604" width="1" height="17" fill="#C0C0C0"/>
<polyline points="-2.5,615.7 5.5,614.9 13.5,614.1 21.5,613.3 29.5,612.5 37.5,611.6 45.5,610.8 53.5,610.1 61.5,609.5 69.5,608.9 77.5,608.4 85.5,607.9 93.5,607.4 101.5,607.1 109.5,607.0 117.5,607.0 125.5,607.0 133.5,607.1 141.5,607.2 149.5,607.3 157.5,607.5 165.5,607.7 173.5,608.0 181.5,608.1 189.5,608.4 197.5,608.9 205.5,609.5 213.5,610.3 221.5,611.1 229.5,611.8 237.5,612.6 245.5,613.3 253.5,614.1 261.5,614.5 269.5,614.6 277.5,614.4 285.5,614.2 293.5,613.9 301.5,613.7 309.5,613.4 317.5,612.9 325.5,612.3 333.5,611.8 341.5,611.4 349.5,611.0 357.5,610.5 365.5,610.2 373.5,609.8 381.5,609.6 389.5,609.6 397.5,609.6 405.5,609.6 413.5,609.7 421.5,609.9 429.5,610.1 437.5,610.6 445.5,611.0 453.5,611.2 461.5,611.4 469.5,611.5 477.5,611.7 485.5,611.8 493.5,611.7 501.5,611.4 509.5,610.8 517.5,610.2 525.5,609.7 533.5,609.2 541.5,608.9 549.5,608.6 557.5,608.4 565.5,608.6 573.5,609.3 581.5,610.2 589.5,611.2 597.5,612.4 605.5,613.8 613.5,615.4 621.5,617.1 629.5,618.5 637.5,619.4 645.5,619.7 653.5,619.8 661.5,619.8 669.5,619.6 677.5,618.9 685.5,617.9 693.5,616.6 701.5,615.3 709.5,614.3 717.5,613.5 725.5,612.9 733.5,612.2 741.5,611.9 749.5,611.9 757.5,612.3 765.5,613.4 773.5,615.3 781.5,618.0 789.5,621.9 797.5,626.7 805.5,632.4 813.5,637.9 821.5,643.4 829.5,648.3 837.5,652.6 845.5,656.4 853.5,659.9 861.5,662.8 869.5,665.1 877.5,667.1 885.5,670.9 893.5,674.5 901.5,679.1 909.5,684.5 917.5,690.6 925.5,696.7 933.5,702.7 941.5,709.1 949.5,715.5 957.5,720.4 965.5,724.3 973.5,726.6 981.5,726.3 989.5,724.3 997.5,721.1 1005.5,716.3 1013.5,710.3 1021.5,703.2 1029.5,695.6 1037.5,688.6 1045.5,682.3 1053.5,676.6 1061.5,670.9 1069.5,664.9 1077.5,658.9 1085.5,652.9 1093.5,646.8 1101.5,640.4 1109.5,634.1 1117.5,627.6 1125.5,621.8 1133.5,616.5 1141.5,612.4 1149.5,609.5 1157.5,607.4 1165.5,605.9 1173.5,605.0 1181.5,604.3 1189.5,604.0 1197.5,604.0 1205.5,603.9 1213.5,603.8 1221.5,603.6 1229.5,603.6 1237.5,603.7 1245.5,603.8 1253.5,604.1 1261.5,604.6 1269.5,605.1 1277.5,605.7 1285.5,606.3 1293.5,607.0 1301.5,607.8 1309.5,608.5 1317.5,609.4 1325.5,610.1 1333.5,610.5 1341.5,610.9 1349.5,611.3 1357.5,611.6 1365.5,611.4 1373.5,610.7 1381.5,609.9 1389.5,608.6" fill="none" stroke="#FF0000" stroke-width="1" stroke-dasharray="3 3"/>
<line x1="0" y1="785.5" x2="1635" y2="785.5" stroke="#C0C0C0" stroke-width="1" stroke-dasharray="3 3"/>
<line x1="0" y1="836.5" x2="1635" y2="836.5" stroke="#C0C0C0" stroke-width="1" stroke-dasharray="3 3"/>
<line x1="0" y1="897.5" x2="1635" y2="897.5" stroke="#C0C0C0" stroke-width="1" stroke-dasharray="3 3"/>
<polyline points="-2.5,810.7 5.5,810.4 13.5,812.0 21.5,802.4 29.5,805.7 37.5,805.7 45.5,805.7 53.5,805.7 61.5,800.2 69.5,802.3 77.5,794.1 85.5,796.2 93.5,793.8 101.5,808.6 109.5,817.8 117.5,817.8 125.5,811.0 133.5,808.8 141.5,802.9 149.5,800.1 157.5,804.5 165.5,802.5 173.5,807.1 181.5,806.0 189.5,834.9 197.5,850.4 205.5,841.7 213.5,837.6 221.5,820.7 229.5,820.7 237.5,827.8 245.5,829.2 253.5,826.8 261.5,812.3 269.5,818.4 277.5,817.4 285.5,817.4 293.5,813.1 301.5,813.1 309.5,806.0 317.5,803.2 325.5,803.2 333.5,799.4 341.5,806.1 349.5,806.1 357.5,800.8 365.5,800.8 373.5,800.8 381.5,818.3 389.5,812.7 397.5,811.4 405.5,797.3 413.5,820.7 421.5,827.1 429.5,821.1 437.5,842.6 445.5,819.8 453.5,813.9 461.5,823.0 469.5,822.2 477.5,818.1 485.5,820.6 493.5,813.3 501.5,805.7 509.5,807.1 517.5,807.1 525.5,806.4 533.5,815.5 541.5,821.3 549.5,817.4 557.5,830.9 565.5,844.9 573.5,849.5 581.5,842.5 589.5,840.2 597.5,836.7 605.5,858.9 613.5,857.7 621.5,854.0 629.5,835.2 637.5,818.2 645.5,814.6 653.5,827.3 661.5,832.3 669.5,822.8 677.5,822.2 685.5,817.1 693.5,817.1 701.5,818.2 709.5,816.8 717.5,821.4 725.5,824.9 733.5,821.4 741.5,837.5 749.5,840.3 757.5,853.5 765.5,869.1 773.5,882.2 781.5,887.0 789.5,897.0 797.5,897.7 805.5,900.3 813.5,858.3 821.5,867.3 829.5,848.0 837.5,855.8 845.5,859.7 853.5,869.2 861.5,872.0 869.5,867.8 877.5,875.3 885.5,888.6 893.5,861.2 901.5,867.1 909.5,873.0 917.5,874.9 925.5,874.9 933.5,877.6 941.5,880.3 949.5,883.7 957.5,876.6 965.5,856.8 973.5,851.1 981.5,839.0 989.5,846.4 997.5,848.6 1005.5,839.6 1013.5,844.6 1021.5,848.4 1029.5,846.4 1037.5,848.1 1045.5,845.2 1053.5,832.4 1061.5,833.4 1069.5,826.0 1077.5,823.8 1085.5,827.8 1093.5,827.2 1101.5,823.0 1109.5,830.5 1117.5,821.7 1125.5,822.0 1133.5,824.2 1141.5,829.6 1149.5,836.2 1157.5,832.9 1165.5,833.2 1173.5,828.7 1181.5,829.6 1189.5,824.1 1197.5,823.6 1205.5,817.2 1213.5,826.6 1221.5,833.1 1229.5,838.3 1237.5,832.8 1245.5,830.6 1253.5,835.3 1261.5,828.7 1269.5,824.0 1277.5,822.5 1285.5,828.4 1293.5,840.1 1301.5,842.8 1309.5,836.3 1317.5,837.8 1325.5,834.2 1333.5,821.1 1341.5,827.4 1349.5,823.8 1357.5,823.4 1365.5,824.4 1373.5,822.9 1381.5,822.5 1389.5,814.8" fill="none" stroke="#1E90FF" stroke-width="1"/>
<rect x="0" y="22" width="1636" height="1" fill="#000"/>
<rect x="0" y="589" width="1636" height="1" fill="#000"/>
<rect x="0" y="591" width="1636" height="1" fill="#000"/>
<rect x="0" y="747" width="1636" height="1" fill="#000"/>
<rect x="0" y="749" width="1636" height="1" fill="#000"/>
<rect x="0" y="923" width="1636" height="1" fill="#000"/>
<rect x="1635" y="22" width="1" height="568" fill="#000"/>
<rect x="1635" y="591" width="1" height="157" fill="#000"/>
<rect x="1635" y="749" width="1" height="175" fill="#000"/>
<rect x="1636" y="25" width="2" height="1" fill="#000"/>
<text x="1640.3" y="29" font-family="Liberation Sans, sans-serif" font-size="9.4" fill="#000" textLength="33.6" lengthAdjust="spacingAndGlyphs">30076.0</text>
<rect x="1636" y="58" width="2" height="1" fill="#000"/>
<text x="1640.3" y="62" font-family="Liberation Sans, sans-serif" font-size="9.4" fill="#000" textLength="33.6" lengthAdjust="spacingAndGlyphs">29366.5</text>
<rect x="1636" y="91" width="2" height="1" fill="#000"/>
<text x="1640.3" y="95" font-family="Liberation Sans, sans-serif" font-size="9.4" fill="#000" textLength="33.6" lengthAdjust="spacingAndGlyphs">28635.5</text>
<rect x="1636" y="124" width="2" height="1" fill="#000"/>
<text x="1640.3" y="128" font-family="Liberation Sans, sans-serif" font-size="9.4" fill="#000" textLength="33.6" lengthAdjust="spacingAndGlyphs">27904.5</text>
<rect x="1636" y="157" width="2" height="1" fill="#000"/>
<text x="1640.3" y="161" font-family="Liberation Sans, sans-serif" font-size="9.4" fill="#000" textLength="33.6" lengthAdjust="spacingAndGlyphs">27195.0</text>
<rect x="1636" y="190" width="2" height="1" fill="#000"/>
<text x="1640.3" y="194" font-family="Liberation Sans, sans-serif" font-size="9.4" fill="#000" textLength="33.6" lengthAdjust="spacingAndGlyphs">26464.0</text>
<rect x="1636" y="223" width="2" height="1" fill="#000"/>
<text x="1640.3" y="227" font-family="Liberation Sans, sans-serif" font-size="9.4" fill="#000" textLength="33.6" lengthAdjust="spacingAndGlyphs">25733.0</text>
<rect x="1636" y="288" width="2" height="1" fill="#000"/>
<text x="1640.3" y="292" font-family="Liberation Sans, sans-serif" font-size="9.4" fill="#000" textLength="33.6" lengthAdjust="spacingAndGlyphs">24340.6</text>
<rect x="1636" y="322" width="2" height="1" fill="#000"/>
<text x="1640.3" y="326" font-family="Liberation Sans, sans-serif" font-size="9.4" fill="#000" textLength="33.6" lengthAdjust="spacingAndGlyphs">23583.0</text>
<rect x="1636" y="355" width="2" height="1" fill="#000"/>
<text x="1640.3" y="359" font-family="Liberation Sans, sans-serif" font-size="9.4" fill="#000" textLength="33.6" lengthAdjust="spacingAndGlyphs">22852.0</text>
<rect x="1636" y="388" width="2" height="1" fill="#000"/>
<text x="1640.3" y="392" font-family="Liberation Sans, sans-serif" font-size="9.4" fill="#000" textLength="33.6" lengthAdjust="spacingAndGlyphs">22121.0</text>
<rect x="1636" y="421" width="2" height="1" fill="#000"/>
<text x="1640.3" y="425" font-family="Liberation Sans, sans-serif" font-size="9.4" fill="#000" textLength="33.6" lengthAdjust="spacingAndGlyphs">21411.5</text>
<rect x="1636" y="454" width="2" height="1" fill="#000"/>
<text x="1640.3" y="458" font-family="Liberation Sans, sans-serif" font-size="9.4" fill="#000" textLength="33.6" lengthAdjust="spacingAndGlyphs">20680.5</text>
<rect x="1636" y="487" width="2" height="1" fill="#000"/>
<text x="1640.3" y="491" font-family="Liberation Sans, sans-serif" font-size="9.4" fill="#000" textLength="33.6" lengthAdjust="spacingAndGlyphs">19949.5</text>
<rect x="1636" y="520" width="2" height="1" fill="#000"/>
<text x="1640.3" y="524" font-family="Liberation Sans, sans-serif" font-size="9.4" fill="#000" textLength="33.6" lengthAdjust="spacingAndGlyphs">19240.0</text>
<rect x="1636" y="553" width="2" height="1" fill="#000"/>
<text x="1640.3" y="557" font-family="Liberation Sans, sans-serif" font-size="9.4" fill="#000" textLength="33.6" lengthAdjust="spacingAndGlyphs">18509.0</text>
<rect x="1636" y="586" width="2" height="1" fill="#000"/>
<text x="1640.3" y="590" font-family="Liberation Sans, sans-serif" font-size="9.4" fill="#000" textLength="33.6" lengthAdjust="spacingAndGlyphs">17799.5</text>
<rect x="1637" y="211" width="41" height="11" fill="#FF0000"/>
<text x="1640.3" y="220" font-family="Liberation Sans, sans-serif" font-size="9.4" fill="#fff" textLength="33.6" lengthAdjust="spacingAndGlyphs">25871.7</text>
<rect x="1637" y="230" width="41" height="11" fill="#FF0000"/>
<text x="1640.3" y="239" font-family="Liberation Sans, sans-serif" font-size="9.4" fill="#fff" textLength="33.6" lengthAdjust="spacingAndGlyphs">25456.1</text>
<rect x="1637" y="253" width="41" height="11" fill="#000000"/>
<text x="1640.3" y="262" font-family="Liberation Sans, sans-serif" font-size="9.4" fill="#fff" textLength="33.6" lengthAdjust="spacingAndGlyphs">24978.0</text>
<rect x="1637" y="265" width="41" height="11" fill="#32CD32"/>
<text x="1640.3" y="274" font-family="Liberation Sans, sans-serif" font-size="9.4" fill="#fff" textLength="33.6" lengthAdjust="spacingAndGlyphs">24690.5</text>
<rect x="1637" y="281" width="41" height="11" fill="#0000FF"/>
<text x="1640.3" y="290" font-family="Liberation Sans, sans-serif" font-size="9.4" fill="#fff" textLength="33.6" lengthAdjust="spacingAndGlyphs">24340.6</text>
<rect x="1637" y="300" width="41" height="11" fill="#0000FF"/>
<text x="1640.3" y="309" font-family="Liberation Sans, sans-serif" font-size="9.4" fill="#fff" textLength="33.6" lengthAdjust="spacingAndGlyphs">23925.0</text>
<rect x="1636" y="593" width="2" height="1" fill="#000"/>
<text x="1638.4" y="602" font-family="Liberation Sans, sans-serif" font-size="9.4" fill="#000" textLength="28.4" lengthAdjust="spacingAndGlyphs">516.54</text>
<rect x="1636" y="620" width="2" height="1" fill="#000"/>
<text x="1638.4" y="624" font-family="Liberation Sans, sans-serif" font-size="9.4" fill="#000" textLength="18.1" lengthAdjust="spacingAndGlyphs">0.00</text>
<rect x="1636" y="746" width="2" height="1" fill="#000"/>
<text x="1638.4" y="744" font-family="Liberation Sans, sans-serif" font-size="9.4" fill="#000" textLength="36.9" lengthAdjust="spacingAndGlyphs">-2409.06</text>
<text x="1638.2" y="760" font-family="Liberation Sans, sans-serif" font-size="9.4" fill="#000" textLength="15.6" lengthAdjust="spacingAndGlyphs">100</text>
<text x="1638.2" y="789" font-family="Liberation Sans, sans-serif" font-size="9.4" fill="#000" textLength="10.4" lengthAdjust="spacingAndGlyphs">80</text>
<text x="1638.2" y="840" font-family="Liberation Sans, sans-serif" font-size="9.4" fill="#000" textLength="10.4" lengthAdjust="spacingAndGlyphs">50</text>
<text x="1638.2" y="901" font-family="Liberation Sans, sans-serif" font-size="9.4" fill="#000" textLength="10.4" lengthAdjust="spacingAndGlyphs">15</text>
<text x="1638.2" y="920" font-family="Liberation Sans, sans-serif" font-size="9.4" fill="#000" textLength="5.2" lengthAdjust="spacingAndGlyphs">0</text>
<rect x="1636" y="751" width="2" height="1" fill="#000"/>
<rect x="1636" y="922" width="2" height="1" fill="#000"/>
<rect x="-3" y="924" width="1" height="3" fill="#000"/>
<text x="-4.2" y="936" font-family="Liberation Sans, sans-serif" font-size="9.4" letter-spacing="0.16" fill="#000">4 Nov 2019</text>
<rect x="61" y="924" width="1" height="3" fill="#000"/>
<text x="59.8" y="936" font-family="Liberation Sans, sans-serif" font-size="9.4" letter-spacing="0.16" fill="#000">13 Nov 2019</text>
<rect x="125" y="924" width="1" height="3" fill="#000"/>
<text x="123.8" y="936" font-family="Liberation Sans, sans-serif" font-size="9.4" letter-spacing="0.16" fill="#000">22 Nov 2019</text>
<rect x="189" y="924" width="1" height="3" fill="#000"/>
<text x="187.8" y="936" font-family="Liberation Sans, sans-serif" font-size="9.4" letter-spacing="0.16" fill="#000">2 Dec 2019</text>
<rect x="253" y="924" width="1" height="3" fill="#000"/>
<text x="251.8" y="936" font-family="Liberation Sans, sans-serif" font-size="9.4" letter-spacing="0.16" fill="#000">11 Dec 2019</text>
<rect x="317" y="924" width="1" height="3" fill="#000"/>
<text x="315.8" y="936" font-family="Liberation Sans, sans-serif" font-size="9.4" letter-spacing="0.16" fill="#000">20 Dec 2019</text>
<rect x="381" y="924" width="1" height="3" fill="#000"/>
<text x="379.8" y="936" font-family="Liberation Sans, sans-serif" font-size="9.4" letter-spacing="0.16" fill="#000">30 Dec 2019</text>
<rect x="445" y="924" width="1" height="3" fill="#000"/>
<text x="443.8" y="936" font-family="Liberation Sans, sans-serif" font-size="9.4" letter-spacing="0.16" fill="#000">8 Jan 2020</text>
<rect x="509" y="924" width="1" height="3" fill="#000"/>
<text x="507.8" y="936" font-family="Liberation Sans, sans-serif" font-size="9.4" letter-spacing="0.16" fill="#000">17 Jan 2020</text>
<rect x="573" y="924" width="1" height="3" fill="#000"/>
<text x="571.8" y="936" font-family="Liberation Sans, sans-serif" font-size="9.4" letter-spacing="0.16" fill="#000">27 Jan 2020</text>
<rect x="637" y="924" width="1" height="3" fill="#000"/>
<text x="635.8" y="936" font-family="Liberation Sans, sans-serif" font-size="9.4" letter-spacing="0.16" fill="#000">5 Feb 2020</text>
<rect x="701" y="924" width="1" height="3" fill="#000"/>
<text x="699.8" y="936" font-family="Liberation Sans, sans-serif" font-size="9.4" letter-spacing="0.16" fill="#000">14 Feb 2020</text>
<rect x="765" y="924" width="1" height="3" fill="#000"/>
<text x="763.8" y="936" font-family="Liberation Sans, sans-serif" font-size="9.4" letter-spacing="0.16" fill="#000">24 Feb 2020</text>
<rect x="829" y="924" width="1" height="3" fill="#000"/>
<text x="827.8" y="936" font-family="Liberation Sans, sans-serif" font-size="9.4" letter-spacing="0.16" fill="#000">4 Mar 2020</text>
<rect x="893" y="924" width="1" height="3" fill="#000"/>
<text x="891.8" y="936" font-family="Liberation Sans, sans-serif" font-size="9.4" letter-spacing="0.16" fill="#000">13 Mar 2020</text>
<rect x="957" y="924" width="1" height="3" fill="#000"/>
<text x="955.8" y="936" font-family="Liberation Sans, sans-serif" font-size="9.4" letter-spacing="0.16" fill="#000">23 Mar 2020</text>
<rect x="1021" y="924" width="1" height="3" fill="#000"/>
<text x="1019.8" y="936" font-family="Liberation Sans, sans-serif" font-size="9.4" letter-spacing="0.16" fill="#000">1 Apr 2020</text>
<rect x="1085" y="924" width="1" height="3" fill="#000"/>
<text x="1083.8" y="936" font-family="Liberation Sans, sans-serif" font-size="9.4" letter-spacing="0.16" fill="#000">12 Apr 2020</text>
<rect x="1149" y="924" width="1" height="3" fill="#000"/>
<text x="1147.8" y="936" font-family="Liberation Sans, sans-serif" font-size="9.4" letter-spacing="0.16" fill="#000">21 Apr 2020</text>
<rect x="1213" y="924" width="1" height="3" fill="#000"/>
<text x="1211.8" y="936" font-family="Liberation Sans, sans-serif" font-size="9.4" letter-spacing="0.16" fill="#000">30 Apr 2020</text>
<rect x="1277" y="924" width="1" height="3" fill="#000"/>
<text x="1275.8" y="936" font-family="Liberation Sans, sans-serif" font-size="9.4" letter-spacing="0.16" fill="#000">10 May 2020</text>
<rect x="1341" y="924" width="1" height="3" fill="#000"/>
<text x="1339.8" y="936" font-family="Liberation Sans, sans-serif" font-size="9.4" letter-spacing="0.16" fill="#000">19 May 2020</text>
<text x="1.2" y="604" font-family="Liberation Sans, sans-serif" font-size="9.6" fill="#000" textLength="127" lengthAdjust="spacingAndGlyphs">MACD(12,26,9) 318.17 219.78</text>
<text x="1.2" y="762" font-family="Liberation Sans, sans-serif" font-size="9.6" fill="#000" textLength="67" lengthAdjust="spacingAndGlyphs">RSI(14) 62.2694</text>
<path d="M0,33.5 L3.8,29.2 L7.6,33.5 Z" fill="#000"/>
<text x="12.3" y="34" font-family="Liberation Sans, sans-serif" font-size="9.8" fill="#000" textLength="48.3" lengthAdjust="spacingAndGlyphs">DJ30-,Daily</text>
<text x="66.8" y="34" font-family="Liberation Sans, sans-serif" font-size="9.8" fill="#000" textLength="141" lengthAdjust="spacingAndGlyphs">24641.0 25123.0 24621.0 24978.0</text>
<rect x="1446" y="271" width="8" height="1" fill="#FF0000"/>
<rect x="1452.5" y="269.5" width="3" height="3" fill="#fff" stroke="#FF0000" stroke-width="1"/>
<rect x="1456.5" y="259.5" width="73" height="24" fill="#fff" stroke="#FF0000" stroke-width="1"/>
<text x="1457.5" y="280" font-family="Liberation Sans, sans-serif" font-size="21.5" fill="#FF0000" textLength="70.5" lengthAdjust="spacingAndGlyphs">24690.5</text>
<text x="1442.3" y="324.2" font-family="Liberation Sans, Noto Sans CJK SC, sans-serif" font-weight="400" font-size="30.6" fill="#000000" textLength="165.5" lengthAdjust="spacingAndGlyphs">多空转折点</text>
<text x="1441.3" y="323.2" font-family="Liberation Sans, Noto Sans CJK SC, sans-serif" font-weight="400" font-size="30.6" fill="#00FF00" textLength="165.5" lengthAdjust="spacingAndGlyphs">多空转折点</text>
<path d="M1399.5,23 H1409.5 L1404.5,28.2 Z" fill="#C0C0C0"/>
<rect x="0" y="0" width="1682" height="17" fill="#F0F0F0"/>
<rect x="0" y="17" width="1682" height="1" fill="#F6F6F6"/>
<rect x="0" y="18" width="1682" height="1" fill="#959595"/>
<rect x="0" y="19" width="1682" height="1" fill="#6A6A6A"/>
<rect x="0" y="20" width="1682" height="2" fill="#FFFFFF"/>
<rect x="271" y="0" width="24" height="16" fill="#F7F7F7"/>
<rect x="423" y="0" width="24" height="16" fill="#F7F7F7"/>
<rect x="451" y="0" width="24" height="16" fill="#F7F7F7"/>
<rect x="611" y="0" width="24" height="16" fill="#F7F7F7"/>
<rect x="1085" y="0" width="24" height="16" fill="#F7F7F7"/>
<rect x="232" y="0" width="1" height="17" fill="#A8A8A8"/><rect x="233" y="0" width="1" height="17" fill="#FFFFFF"/>
<rect x="270" y="0" width="1" height="17" fill="#A8A8A8"/><rect x="271" y="0" width="1" height="17" fill="#FFFFFF"/>
<rect x="327" y="0" width="1" height="17" fill="#A8A8A8"/><rect x="328" y="0" width="1" height="17" fill="#FFFFFF"/>
<rect x="417" y="0" width="1" height="17" fill="#A8A8A8"/><rect x="418" y="0" width="1" height="17" fill="#FFFFFF"/>
<rect x="422" y="0" width="1" height="17" fill="#A8A8A8"/><rect x="423" y="0" width="1" height="17" fill="#FFFFFF"/>
<rect x="450" y="0" width="1" height="17" fill="#A8A8A8"/><rect x="451" y="0" width="1" height="17" fill="#FFFFFF"/>
<rect x="479" y="0" width="1" height="17" fill="#A8A8A8"/><rect x="480" y="0" width="1" height="17" fill="#FFFFFF"/>
<rect x="600" y="0" width="1" height="17" fill="#A8A8A8"/><rect x="601" y="0" width="1" height="17" fill="#FFFFFF"/>
<rect x="610" y="0" width="1" height="17" fill="#A8A8A8"/><rect x="611" y="0" width="1" height="17" fill="#FFFFFF"/>
<rect x="667" y="0" width="1" height="17" fill="#A8A8A8"/><rect x="668" y="0" width="1" height="17" fill="#FFFFFF"/>
<rect x="906" y="0" width="1" height="17" fill="#A8A8A8"/><rect x="907" y="0" width="1" height="17" fill="#FFFFFF"/>
<rect x="1084" y="0" width="1" height="17" fill="#A8A8A8"/><rect x="1085" y="0" width="1" height="17" fill="#FFFFFF"/>
<rect x="1167" y="0" width="1" height="17" fill="#A8A8A8"/><rect x="1168" y="0" width="1" height="17" fill="#FFFFFF"/>
<rect x="236" y="0" width="3" height="1" fill="#8A8A8A"/>
<rect x="236" y="2" width="3" height="1" fill="#8A8A8A"/>
<rect x="236" y="4" width="3" height="1" fill="#8A8A8A"/>
<rect x="236" y="6" width="3" height="1" fill="#8A8A8A"/>
<rect x="236" y="8" width="3" height="1" fill="#8A8A8A"/>
<rect x="236" y="10" width="3" height="1" fill="#8A8A8A"/>
<rect x="236" y="12" width="3" height="1" fill="#8A8A8A"/>
<rect x="236" y="14" width="3" height="1" fill="#8A8A8A"/>
<rect x="604" y="0" width="3" height="1" fill="#8A8A8A"/>
<rect x="604" y="2" width="3" height="1" fill="#8A8A8A"/>
<rect x="604" y="4" width="3" height="1" fill="#8A8A8A"/>
<rect x="604" y="6" width="3" height="1" fill="#8A8A8A"/>
<rect x="604" y="8" width="3" height="1" fill="#8A8A8A"/>
<rect x="604" y="10" width="3" height="1" fill="#8A8A8A"/>
<rect x="604" y="12" width="3" height="1" fill="#8A8A8A"/>
<rect x="604" y="14" width="3" height="1" fill="#8A8A8A"/>
<rect x="910" y="0" width="3" height="1" fill="#8A8A8A"/>
<rect x="910" y="2" width="3" height="1" fill="#8A8A8A"/>
<rect x="910" y="4" width="3" height="1" fill="#8A8A8A"/>
<rect x="910" y="6" width="3" height="1" fill="#8A8A8A"/>
<rect x="910" y="8" width="3" height="1" fill="#8A8A8A"/>
<rect x="910" y="10" width="3" height="1" fill="#8A8A8A"/>
<rect x="910" y="12" width="3" height="1" fill="#8A8A8A"/>
<rect x="910" y="14" width="3" height="1" fill="#8A8A8A"/>
<g shape-rendering="auto">
<path d="M6.5,-3 H15 L17.5,-0.5 V11.5 H6.5 Z" fill="#fff" stroke="#777" stroke-width="1"/>
<path d="M8,4.3 H14 M8,6.3 H13 M8,8.3 H12" stroke="#888" stroke-width="0.8"/>
<path d="M14.2,4.3 h3.8 v3.4 h4 v3.6 h-4 v4 h-3.8 v-4 h-4 v-3.6 h4 z" fill="#30DA30" stroke="#0C8C0C" stroke-width="0.9"/>
<text x="24.5" y="10" font-family="Liberation Sans, Noto Sans CJK SC, sans-serif" font-size="12.5" fill="#000">新订单</text>
<defs><linearGradient id="ggold" x1="0" y1="0" x2="1" y2="1"><stop offset="0" stop-color="#FBE36A"/><stop offset="0.6" stop-color="#E6B420"/><stop offset="1" stop-color="#C98E12"/></linearGradient><linearGradient id="gcloud" x1="0" y1="0" x2="0" y2="1"><stop offset="0" stop-color="#FFFFFF"/><stop offset="1" stop-color="#C4CCDA"/></linearGradient></defs>
<path d="M78.4,-1 L81.6,-1 L87.8,4.8 L88.9,8.2 L80.6,13.8 L73,7.8 C74.5,5.5 76.5,3.5 78.4,-1 Z" fill="url(#ggold)" stroke="#8E5C0E" stroke-width="0.9"/>
<path d="M74.2,8.4 L80.6,12.6 L88.2,7.6" fill="none" stroke="#F4E2A0" stroke-width="1.1"/>
<path d="M74.5,6.6 L81,11 L87.6,6.2" fill="none" stroke="#B07A14" stroke-width="0.6"/>
<rect x="103" y="-2" width="11" height="10" fill="#1496F2"/>
<rect x="106" y="-2" width="0.9" height="8" fill="#E8F6FF"/><rect x="108.2" y="2.8" width="4.2" height="1.4" fill="#fff"/>
<path d="M102.8,13.6 C100.6,13.6 100.6,9.4 103.4,9.4 C103.6,7.4 106.6,6.6 108,7.9 C109.2,5.6 113.6,6 114,8.6 C117.4,8.4 117.4,13.6 114.8,13.6 Z" fill="url(#gcloud)" stroke="#48628E" stroke-width="0.9"/>
<g fill="none" stroke-width="1">
<circle cx="137" cy="6" r="7.2" stroke="#7FA8DF"/><circle cx="137" cy="6" r="4.8" stroke="#4A84D4"/><circle cx="137" cy="6" r="2.5" stroke="#2F6FCF"/>
</g><circle cx="137" cy="6" r="1.4" fill="#2060C0"/><path d="M137.3,6 V13.5 L141,12" fill="none" stroke="#20A020" stroke-width="1.2"/>
<ellipse cx="164" cy="2.3" rx="7.5" ry="3.2" fill="#4AB0E8" stroke="#2A80C0" stroke-width="0.8"/>
<path d="M157,5 L171,5 L166,13 Z" fill="#F2D24A" stroke="#C09020" stroke-width="0.8"/>
<circle cx="168" cy="10" r="4.2" fill="#E02010" stroke="#A01008" stroke-width="0.6"/><rect x="166.3" y="8.3" width="3.4" height="3.4" fill="#fff"/>
<text x="177.5" y="10" font-family="Liberation Sans, Noto Sans CJK SC, sans-serif" font-size="12" fill="#000">自动交易</text>
<path d="M250.5,0 V13.6 M248,11.6 H261" stroke="#555" stroke-width="1.1" fill="none"/><path d="M262,11.6 l-2.5,-2 v4 z M250.5,-1 l-2,2.5 h4 z" fill="#555"/>
<path d="M256.3,1 V9.8 M256.3,2.3 H259.2 M256.3,8.4 H254" stroke="#108A10" stroke-width="1.2" fill="none"/>
<path d="M278.5,0 V13.6 M276,11.6 H289" stroke="#555" stroke-width="1.1" fill="none"/><path d="M290,11.6 l-2.5,-2 v4 z M278.5,-1 l-2,2.5 h4 z" fill="#555"/>
<rect x="282.2" y="-1" width="4.6" height="9" fill="#2CD82C" stroke="#108A10" stroke-width="0.9"/><path d="M284.5,8 V9.8" stroke="#108A10" stroke-width="1.2"/>
<path d="M306.5,0 V13.6 M304,11.6 H317" stroke="#555" stroke-width="1.1" fill="none"/><path d="M318,11.6 l-2.5,-2 v4 z M306.5,-1 l-2,2.5 h4 z" fill="#555"/>
<path d="M305,8.5 Q309,1.5 311,3 T316.6,7.2" fill="none" stroke="#2A9A2A" stroke-width="1.1"/>
<path d="M345.6,8 L351.1,13" stroke="#9A7010" stroke-width="3.4" stroke-linecap="round"/>
<path d="M345.6,8 L351.1,13" stroke="#E6C440" stroke-width="2" stroke-linecap="round"/>
<circle cx="342.1" cy="3.9" r="5.3" fill="#D8F0FC" stroke="#3C7CC8" stroke-width="1.1"/>
<path d="M339.1,3.9 H345.1" stroke="#3F7FAF" stroke-width="1.6"/>
<path d="M342.1,0.9 V6.9" stroke="#3F7FAF" stroke-width="1.6"/>
<path d="M373.4,8 L378.9,13" stroke="#9A7010" stroke-width="3.4" stroke-linecap="round"/>
<path d="M373.4,8 L378.9,13" stroke="#E6C440" stroke-width="2" stroke-linecap="round"/>
<circle cx="369.9" cy="3.9" r="5.3" fill="#D8F0FC" stroke="#3C7CC8" stroke-width="1.1"/>
<path d="M366.9,3.9 H372.9" stroke="#3F7FAF" stroke-width="1.6"/>
<rect x="392.2" y="-1" width="7.6" height="7.4" rx="0.8" fill="#38A038"/>
<rect x="393.5" y="1" width="5" height="3.6" fill="#fff"/>
<rect x="400.2" y="-1" width="7.6" height="7.4" rx="0.8" fill="#2A58D8"/>
<rect x="401.5" y="1" width="5" height="3.6" fill="#fff"/>
<rect x="392.2" y="6" width="7.6" height="7.4" rx="0.8" fill="#2A58D8"/>
<rect x="393.5" y="8" width="5" height="3.6" fill="#fff"/>
<rect x="400.2" y="6" width="7.6" height="7.4" rx="0.8" fill="#38A038"/>
<rect x="401.5" y="8" width="5" height="3.6" fill="#fff"/>
<path d="M430.5,0 V13.6 M428,11.6 H443" stroke="#555" stroke-width="1.1" fill="none"/><path d="M444,11.6 l-2.5,-2 v4 z M430.5,-1 l-2,2.5 h4 z" fill="#555"/>
<path d="M435,2 L439,5.4 L435,8.8 Z" fill="#20C020" stroke="#108A10" stroke-width="0.7"/>
<path d="M458.5,0 V13.6 M456,11.6 H470" stroke="#555" stroke-width="1.1" fill="none"/><path d="M471,11.6 l-2.5,-2 v4 z M458.5,-1 l-2,2.5 h4 z" fill="#555"/>
<path d="M464.5,0 V9.8" stroke="#1060A0" stroke-width="1.2"/><path d="M465.5,5.6 L468.5,3.5 V4.8 H470.5 V6.4 H468.5 V7.7 Z" fill="#E04000"/>
<path d="M489.5,-2 H498 L500.5,0.5 V11.5 H489.5 Z" fill="#fff" stroke="#666" stroke-width="1"/>
<path d="M491.5,3 C490.5,3 491,5 491,6 M491,8 V9" stroke="#554" stroke-width="0.8" fill="none"/>
<path d="M497.3,4.2 h3.8 v3.4 h4 v3.6 h-4 v4.3 h-3.8 v-4.3 h-4 v-3.6 h4 z" fill="#30DA30" stroke="#0C8C0C" stroke-width="0.9"/>
<path d="M511,5 H516.2 L513.6,8 Z" fill="#000"/>
<path d="M550,5 H555.2 L552.6,8 Z" fill="#000"/>
<path d="M589,5 H594.2 L591.6,8 Z" fill="#000"/>
<path d="M895,5 H900.2 L897.6,8 Z" fill="#000"/>
<circle cx="535.2" cy="5.9" r="6.8" fill="#1A6AC8"/><circle cx="535.2" cy="5.9" r="5" fill="#F4F8FC"/>
<path d="M534.8,2.2 V6.2 H538" stroke="#333" stroke-width="0.9" fill="none"/>
<rect x="566.5" y="-1" width="15.5" height="13.3" rx="0.8" fill="#fff" stroke="#3A7AC8" stroke-width="1"/>
<rect x="567" y="-1" width="14.5" height="2.2" fill="#5A9AE0"/><path d="M567,7.5 H581.5" stroke="#3A7AC8" stroke-width="0.8"/>
<path d="M568,5.4 L570,5.4 L572,4 L574,4.5 L576,3.5 L578,4.6 L580,3.3" stroke="#A02000" stroke-width="1" fill="none"/>
<path d="M568,10.4 L570,10 L572,10.6 L574,9 L576,10.3 L578,8 L580,10.4" stroke="#209020" stroke-width="1" fill="none"/>
<path d="M618.3,-0.5 L618.3,9.8 L620.8,7.6 L623.2,12.6 L625.2,11.7 L622.8,6.8 L626,6.6 Z" fill="#555"/>
<path d="M642.9,6.5 H649.3 M651.5,6.5 H657.9 M650.4,0 V5.3 M650.4,7.7 V13.7" stroke="#555" stroke-width="1.1"/>
<path d="M684.6,0 V12.8" stroke="#555" stroke-width="1.2"/>
<path d="M707,6.4 H719" stroke="#555" stroke-width="1.2"/>
<path d="M734.9,12.8 L747.2,1" stroke="#555" stroke-width="1.1"/>
<path d="M760.5,8 L770.5,-0.5 M762.5,11.5 L773.5,2 M761.5,5 L765,8.5 M764,2.8 L767.5,6.3 M766.5,0.6 L770,4" stroke="#555" stroke-width="1" fill="none"/>
<text x="771.5" y="14.6" font-family="Liberation Sans, sans-serif" font-weight="bold" font-size="6.5" fill="#444">E</text>
<path d="M790,2.3 H803 M790,6.4 H803 M790,10.5 H798" stroke="#555" stroke-width="1" stroke-dasharray="1 1" fill="none"/>
<text x="799.6" y="14.6" font-family="Liberation Sans, sans-serif" font-weight="bold" font-size="6.5" fill="#444">F</text>
<text x="820.6" y="11" font-family="Liberation Sans, sans-serif" font-weight="bold" font-size="11.5" fill="#555">A</text>
<rect x="847.5" y="-0.5" width="11" height="13" fill="none" stroke="#666" stroke-width="1" stroke-dasharray="1 1"/>
<text x="849.2" y="10.7" font-family="Liberation Sans, sans-serif" font-weight="bold" font-size="11" fill="#555">T</text>
<path d="M878,-0.5 L880.5,2 L878,4.5 L875.5,2 Z M885,7 L887.5,9.5 L885,12 L882.5,9.5 Z" fill="#444"/>
<path d="M877.5,5.5 L879.5,7.8 L883.5,3.6" stroke="#444" stroke-width="1.2" fill="none"/>
<circle cx="1637.8" cy="3.8" r="3.3" fill="none" stroke="#2A6AD8" stroke-width="1.4"/><path d="M1635.6,6.2 L1630.5,11.3" stroke="#2A5AC8" stroke-width="2.2" stroke-linecap="round"/>
<path d="M1660,11.5 C1655,11 1656,4.5 1661.5,4.5 C1667,4.5 1667.5,10.5 1662.5,11 L1660.5,13 Z" fill="#E8ECF2" stroke="#8A8E96" stroke-width="0.8"/>
<path d="M1666.5,4.5 C1666,0 1676,-1 1676.5,3.5 C1677,6.5 1674,7.5 1673.5,7.8 L1673.8,9.5 L1671.8,7.9 L1667.5,7.8" fill="#E0E4EA" stroke="#8A8E96" stroke-width="0.8"/>
</g>
<text x="921.5" y="10.2" font-family="Liberation Sans, sans-serif" font-size="9.8" fill="#3A3A3A" textLength="12.3" lengthAdjust="spacingAndGlyphs">M1</text>
<text x="949.8" y="10.2" font-family="Liberation Sans, sans-serif" font-size="9.8" fill="#3A3A3A" textLength="12.2" lengthAdjust="spacingAndGlyphs">M5</text>
<text x="975.6" y="10.2" font-family="Liberation Sans, sans-serif" font-size="9.8" fill="#3A3A3A" textLength="17.5" lengthAdjust="spacingAndGlyphs">M15</text>
<text x="1003.5" y="10.2" font-family="Liberation Sans, sans-serif" font-size="9.8" fill="#3A3A3A" textLength="17.7" lengthAdjust="spacingAndGlyphs">M30</text>
<text x="1034.3" y="10.2" font-family="Liberation Sans, sans-serif" font-size="9.8" fill="#3A3A3A" textLength="11.9" lengthAdjust="spacingAndGlyphs">H1</text>
<text x="1061.8" y="10.2" font-family="Liberation Sans, sans-serif" font-size="9.8" fill="#3A3A3A" textLength="12.4" lengthAdjust="spacingAndGlyphs">H4</text>
<text x="1090.5" y="10.2" font-family="Liberation Sans, sans-serif" font-size="9.8" fill="#3A3A3A" textLength="11.6" lengthAdjust="spacingAndGlyphs">D1</text>
<text x="1117.9" y="10.2" font-family="Liberation Sans, sans-serif" font-size="9.8" fill="#3A3A3A" textLength="14.4" lengthAdjust="spacingAndGlyphs">W1</text>
<text x="1144.5" y="10.2" font-family="Liberation Sans, sans-serif" font-size="9.8" fill="#3A3A3A" textLength="15" lengthAdjust="spacingAndGlyphs">MN</text>
<defs><linearGradient id="gtab" x1="0" y1="0" x2="0" y2="1"><stop offset="0" stop-color="#F65858"/><stop offset="1" stop-color="#E43A3A"/></linearGradient><linearGradient id="gbox" gradientUnits="userSpaceOnUse" x1="0" y1="66" x2="0" y2="106"><stop offset="0" stop-color="#E43838"/><stop offset="0.5" stop-color="#CC1A1A"/><stop offset="1" stop-color="#B00404"/></linearGradient><linearGradient id="gbtn" x1="0" y1="0" x2="0" y2="1"><stop offset="0" stop-color="#F4F4F4"/><stop offset="0.4" stop-color="#EBEBEB"/><stop offset="0.42" stop-color="#DCDCDC"/><stop offset="1" stop-color="#D4D4D4"/></linearGradient></defs>
<rect x="0.5" y="66.5" width="108" height="39" fill="url(#gbox)" stroke="#B00000" stroke-width="1"/>
<path d="M0.5,67 V42.5 H51.5 V67" fill="url(#gtab)" stroke="#B40000" stroke-width="1"/>
<rect x="1" y="60" width="51" height="7" fill="#E63C3C"/>
<rect x="4" y="65" width="44" height="1" fill="#7A0000"/><rect x="4" y="66" width="44" height="1" fill="#F27070"/>
<rect x="111.5" y="66.5" width="107" height="39" fill="url(#gbox)" stroke="#B00000" stroke-width="1"/>
<path d="M167.5,67 V42.5 H218.5 V67" fill="url(#gtab)" stroke="#B40000" stroke-width="1"/>
<rect x="168" y="60" width="51" height="7" fill="#E63C3C"/>
<rect x="171" y="65" width="44" height="1" fill="#7A0000"/><rect x="171" y="66" width="44" height="1" fill="#F27070"/>
<rect x="54.5" y="42.5" width="110" height="21" fill="#fff" stroke="#A4A8AE" stroke-width="1"/>
<rect x="75" y="43" width="1" height="20" fill="#A4A8AE"/><rect x="143" y="43" width="1" height="20" fill="#A4A8AE"/>
<rect x="56" y="44" width="18" height="18" fill="url(#gbtn)"/><rect x="145" y="44" width="18" height="18" fill="url(#gbtn)"/>
<path d="M62,50.8 H67.2 L64.6,53.8 Z" fill="#4E5ED0"/>
<path d="M151.5,53.5 H156.7 L154.1,50.5 Z" fill="#4E5ED0"/>
<text x="116.6" y="57" font-family="Liberation Sans, sans-serif" font-size="11.8" fill="#000" textLength="23" lengthAdjust="spacingAndGlyphs">1.00</text>
<text x="12" y="58" font-family="Liberation Sans, sans-serif" font-size="12.4" fill="#fff" textLength="25.8" lengthAdjust="spacingAndGlyphs">SELL</text>
<text x="180.6" y="58" font-family="Liberation Sans, sans-serif" font-size="12.4" fill="#fff" textLength="23.2" lengthAdjust="spacingAndGlyphs">BUY</text>
<text x="15.6" y="96.9" font-family="Liberation Sans, sans-serif" font-weight="bold" font-size="12" fill="#fff" textLength="34.8" lengthAdjust="spacingAndGlyphs">24976</text>
<text x="126.0" y="96.9" font-family="Liberation Sans, sans-serif" font-weight="bold" font-size="12" fill="#fff" textLength="34.8" lengthAdjust="spacingAndGlyphs">24989</text>
<rect x="55.5" y="93.2" width="3.8" height="3.7" fill="#fff"/>
<text x="61.6" y="97.1" font-family="Liberation Sans, sans-serif" font-size="35.5" fill="#fff" stroke="url(#gbox)" stroke-width="0.35">5</text>
<rect x="166.2" y="93.2" width="3.8" height="3.7" fill="#fff"/>
<text x="172.1" y="97.1" font-family="Liberation Sans, sans-serif" font-size="35.5" fill="#fff" stroke="url(#gbox)" stroke-width="0.35">5</text>
<rect x="1681" y="20" width="1" height="924" fill="#D8D8D8"/>
</svg>
</body></html>
